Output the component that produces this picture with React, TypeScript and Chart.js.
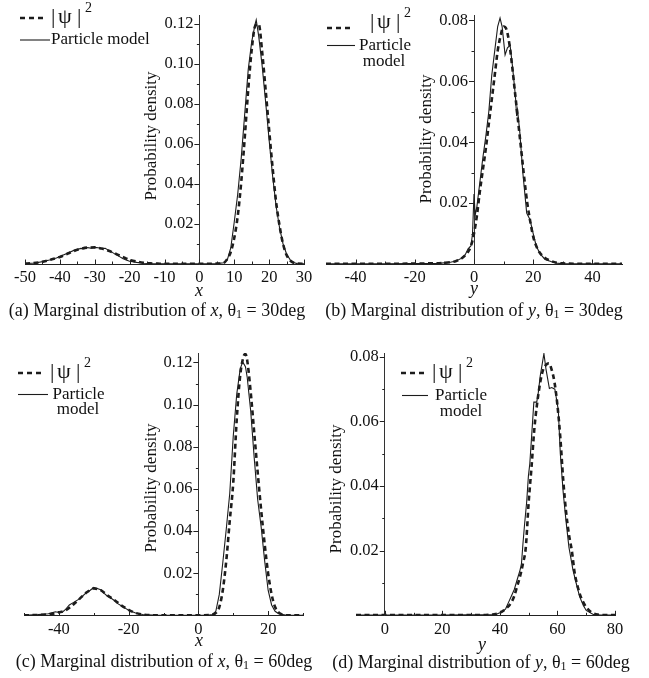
import React, { useEffect, useRef } from 'react';
import { Chart, registerables } from 'chart.js';
Chart.register(...registerables);

// ---------- (a) marginal distribution of x, theta1 = 30deg ----------
const aPsiX = [-50,-48,-46,-44,-42,-40,-38,-36,-34,-32,-30,-28,-26,-24,-22,-20,-18,-16,-14,-12,-10,-5,0,5,7,8,9,10,11,12,13,14,15,16,17,18,19,20,21,22,23,24,25,26,27,28,30];
const aPsiY = [0.0002,0.0004,0.0008,0.0015,0.0025,0.0035,0.005,0.0065,0.0076,0.0082,0.0083,0.0077,0.0066,0.0051,0.0036,0.0021,0.0012,0.0006,0.0003,0.0002,0.0001,0.0001,0.0001,0.0002,0.0006,0.0025,0.006,0.013,0.024,0.041,0.063,0.087,0.107,0.119,0.12,0.106,0.087,0.067,0.048,0.031,0.019,0.010,0.0045,0.0018,0.0006,0.0002,0.0001];
const aPartX = [-50,-47,-45,-43,-41,-39,-37,-36,-35,-34,-33,-32,-31,-30,-29,-28,-27,-26,-25,-24,-23,-22,-21,-20,-18,-16,-14,-10,0,5,7,8,9,10,11,12,13,14,15,16,16.3,17,18,19,20,21,22,23,24,25,26,27,28,30];
const aPartY = [0.0002,0.0005,0.0012,0.002,0.003,0.0045,0.006,0.0068,0.0072,0.0078,0.0076,0.0082,0.0079,0.0083,0.0081,0.0077,0.0079,0.0068,0.0058,0.0048,0.0038,0.0028,0.002,0.0014,0.0008,0.0004,0.0002,0.0001,0.0001,0.0002,0.0006,0.002,0.008,0.021,0.035,0.053,0.075,0.097,0.111,0.12,0.122,0.114,0.099,0.081,0.062,0.044,0.029,0.018,0.01,0.005,0.0022,0.0007,0.0002,0.0001];

// ---------- (b) marginal distribution of y, theta1 = 30deg ----------
const bPsiX = [-50,-30,-15,-10,-8,-6,-4,-2,-1,0,1,2,3,4,5,6,7,8,9,10,11,12,13,14,15,16,17,18,19,20,21,22,24,26,28,30,35,50];
const bPsiY = [0.0001,0.0001,0.0002,0.0004,0.0006,0.001,0.002,0.004,0.006,0.010,0.016,0.024,0.031,0.038,0.046,0.054,0.062,0.070,0.075,0.078,0.077,0.072,0.064,0.055,0.046,0.037,0.028,0.020,0.014,0.009,0.006,0.004,0.002,0.001,0.0004,0.0002,0.0001,0.0001];
const bPartX = [-50,-30,-12,-8,-6,-4,-3,-2,-1,-0.5,0,0.4,1,2,3,4,5,6,7,8,8.8,9.5,10.5,11.3,12.2,13,14,14.4,14.7,15.5,16.5,17.8,18.9,20,21,22.3,24,26,28,30,50];
const bPartY = [0.0001,0.0001,0.0002,0.0006,0.001,0.002,0.003,0.005,0.006,0.010,0.023,0.016,0.019,0.027,0.035,0.042,0.050,0.062,0.070,0.078,0.0808,0.078,0.0687,0.071,0.0718,0.065,0.055,0.0486,0.0507,0.043,0.030,0.0167,0.0146,0.010,0.006,0.0034,0.0015,0.0008,0.0003,0.0001,0.0001];

// ---------- (c) marginal distribution of x, theta1 = 60deg ----------
const cPsiX = [-50,-45,-42,-40,-38,-36,-34,-32,-30,-28,-26,-24,-22,-20,-18,-16,-14,-10,0,3,4,5,6,7,8,9,10,11,12,13,13.5,14,15,16,17,18,19,20,21,22,23,24,26,30];
const cPsiY = [0.0001,0.0003,0.0008,0.0015,0.0025,0.005,0.008,0.011,0.0128,0.012,0.0095,0.0072,0.0047,0.0027,0.0012,0.0005,0.0002,0.0001,0.0001,0.0002,0.0004,0.0012,0.004,0.012,0.026,0.045,0.063,0.093,0.114,0.123,0.124,0.121,0.106,0.087,0.068,0.05,0.034,0.02,0.01,0.004,0.0015,0.0005,0.0001,0.0001];
const cPartX = [-50,-46,-43,-41,-40,-39,-38,-37,-36,-34,-32,-31,-30,-29,-28,-27,-26,-25,-24,-23,-22,-21,-20,-18,-16,-13,0,3,4,5,6,7,8,9,10,11,12,12.7,13.5,14,15,16,17,18,19,20,21,22,23,25,30];
const cPartY = [0.0001,0.0004,0.0008,0.0018,0.0014,0.0016,0.003,0.005,0.006,0.008,0.011,0.012,0.0133,0.0128,0.0122,0.0105,0.009,0.0082,0.007,0.0055,0.0045,0.0035,0.0025,0.0012,0.0005,0.0002,0.0001,0.0002,0.0005,0.002,0.01,0.025,0.041,0.058,0.085,0.105,0.117,0.1203,0.118,0.113,0.097,0.075,0.055,0.042,0.026,0.012,0.005,0.002,0.0008,0.0002,0.0001];

// ---------- (d) marginal distribution of y, theta1 = 60deg ----------
const dPsiX = [-10,0,20,35,38,40,42,44,45,46,47,48,49,50,51,52,53,54,55,56,57,58,59,60,61,62,63,64,65,66,67,68,69,70,71,72,74,76,80];
const dPsiY = [0.0001,0.0001,0.0001,0.0001,0.0003,0.0008,0.002,0.004,0.006,0.009,0.012,0.016,0.021,0.035,0.046,0.058,0.066,0.072,0.076,0.0775,0.078,0.076,0.072,0.065,0.055,0.042,0.032,0.025,0.020,0.013,0.009,0.006,0.004,0.0025,0.0015,0.0008,0.0002,0.0001,0.0001];
const dPartX = [-10,0,20,38,39,40,41,42,43,44,45,46,47,47.5,48,48.6,49.3,49.9,50.4,51,51.8,52.8,53.3,54,55.3,56,57.2,58,59.1,60.3,61,62,63,64,65.4,66.5,67.7,69,70,72.6,75,80];
const dPartY = [0.0001,0.0001,0.0001,0.0002,0.0004,0.0008,0.0012,0.002,0.004,0.006,0.008,0.011,0.014,0.016,0.022,0.0284,0.035,0.043,0.047,0.055,0.066,0.066,0.0686,0.074,0.081,0.0763,0.0702,0.0705,0.070,0.0635,0.05,0.038,0.029,0.021,0.014,0.010,0.0058,0.003,0.0015,0.0002,0.0001,0.0001];

// ---------- tick labels and tick marks ----------
const aXLabels = [-50,-40,-30,-20,-10,0,10,20,30];
const bXLabels = [-40,-20,0,20,40];
const cXLabels = [-40,-20,0,20];
const dXLabels = [0,20,40,60,80];
const aXMajor = [-50,-40,-30,-20,-10,0,10,20,30];
const aXMinor = [-45,-35,-25,-15,-5,5,15,25];
const bXMajor = [-40,-20,0,20,40];
const bXMinor = [-30,-10,10,30];
const cXMajor = [-40,-20,0,20];
const cXMinor = [-50,-30,-10,10,30];
const dXMajor = [0,20,40,60,80];
const dXMinor = [10,30,50,70];
const yLabels12 = [0.02,0.04,0.06,0.08,0.10,0.12];
const yLabels08 = [0.02,0.04,0.06,0.08];
const yMinor12 = [0.01,0.03,0.05,0.07,0.09,0.11];
const yMinor08 = [0.01,0.03,0.05,0.07];

const SERIF = '"Liberation Serif", "Times New Roman", serif';
const INK = '#111';

type Leg = { dash: number[]; psi: number[]; solid: number[]; text: { t: string; x: number; y: number; align: string }[] };
type PanelSpec = {
  key: string; left: number; top: number; w: number; h: number;
  pad: { left: number; right: number; top: number; bottom: number };
  xMin: number; xMax: number; yMax: number; yAxisAt: number;
  psiX: number[]; psiY: number[]; partX: number[]; partY: number[];
  xLabels: number[]; xMajor: number[]; xMinor: number[]; yLabels: number[]; yMinor: number[];
  yTitle: number[]; axisVar: string; axisLabel: number[];
  caption: { letter: string; v: string; deg: string; cx: number; cy: number };
  legend: Leg;
};

const panels: PanelSpec[] = [
  {
    key: 'a', left: 0, top: 0, w: 324, h: 330,
    pad: { left: 25, right: 20, top: 2, bottom: 66 },
    xMin: -50, xMax: 30, yMax: 0.124, yAxisAt: 0,
    psiX: aPsiX, psiY: aPsiY, partX: aPartX, partY: aPartY,
    xLabels: aXLabels, xMajor: aXMajor, xMinor: aXMinor, yLabels: yLabels12, yMinor: yMinor12,
    yTitle: [152, 136], axisVar: 'x', axisLabel: [199, 291],
    caption: { letter: '(a)', v: 'x', deg: '30deg', cx: 157, cy: 311 },
    legend: { dash: [20, 43, 18], psi: [51, 17], solid: [20, 50, 40],
      text: [{ t: 'Particle model', x: 51, y: 40, align: 'left' }] },
  },
  {
    key: 'b', left: 324, top: 0, w: 325, h: 330,
    pad: { left: 2, right: 27, top: 0, bottom: 66 },
    xMin: -50, xMax: 50, yMax: 0.0815, yAxisAt: 0,
    psiX: bPsiX, psiY: bPsiY, partX: bPartX, partY: bPartY,
    xLabels: bXLabels, xMajor: bXMajor, xMinor: bXMinor, yLabels: yLabels08, yMinor: yMinor08,
    yTitle: [103, 139], axisVar: 'y', axisLabel: [150, 289],
    caption: { letter: '(b)', v: 'y', deg: '30deg', cx: 150, cy: 311 },
    legend: { dash: [3, 26, 28], psi: [46, 22], solid: [3, 31, 45.5],
      text: [{ t: 'Particle', x: 61, y: 45.5, align: 'center' }, { t: 'model', x: 60, y: 61.5, align: 'center' }] },
  },
  {
    key: 'c', left: 0, top: 330, w: 314, h: 348,
    pad: { left: 24, right: 11, top: 23, bottom: 62.5 },
    xMin: -50, xMax: 30, yMax: 0.1245, yAxisAt: 0,
    psiX: cPsiX, psiY: cPsiY, partX: cPartX, partY: cPartY,
    xLabels: cXLabels, xMajor: cXMajor, xMinor: cXMinor, yLabels: yLabels12, yMinor: yMinor12,
    yTitle: [152, 158], axisVar: 'x', axisLabel: [199, 311],
    caption: { letter: '(c)', v: 'x', deg: '60deg', cx: 164, cy: 332 },
    legend: { dash: [18, 41, 43], psi: [50, 42], solid: [18, 48, 64.5],
      text: [{ t: 'Particle', x: 78.5, y: 64.5, align: 'center' }, { t: 'model', x: 78, y: 80, align: 'center' }] },
  },
  {
    key: 'd', left: 314, top: 330, w: 335, h: 348,
    pad: { left: 42, right: 34, top: 23, bottom: 62.7 },
    xMin: -10, xMax: 80, yMax: 0.0812, yAxisAt: 0,
    psiX: dPsiX, psiY: dPsiY, partX: dPartX, partY: dPartY,
    xLabels: dXLabels, xMajor: dXMajor, xMinor: dXMinor, yLabels: yLabels08, yMinor: yMinor08,
    yTitle: [23, 159], axisVar: 'y', axisLabel: [168, 315],
    caption: { letter: '(d)', v: 'y', deg: '60deg', cx: 167, cy: 333 },
    legend: { dash: [87, 110, 43], psi: [118, 42.5], solid: [88, 114, 65.5],
      text: [{ t: 'Particle', x: 147, y: 65.5, align: 'center' }, { t: 'model', x: 147, y: 81.5, align: 'center' }] },
  },
];

function decorPlugin(p: PanelSpec) {
  return {
    id: 'decor_' + p.key,
    afterLayout(chart: any) {
      // place the y axis at the chosen x value and give both axes room to draw their labels
      const xs = chart.scales.x;
      const ys = chart.scales.y;
      const ax = xs.getPixelForValue(p.yAxisAt);
      ys.right = ax;
      ys.left = ax - 80;
      ys.width = 80;
      xs.bottom = xs.top + 40;
      xs.height = 40;
      ys._labelItems = null;
      ys._gridLineItems = null;
      xs._labelItems = null;
      xs._gridLineItems = null;
    },
    afterDraw(chart: any) {
      const ctx = chart.ctx as CanvasRenderingContext2D;
      const xs = chart.scales.x;
      const ys = chart.scales.y;
      const ax = xs.getPixelForValue(p.yAxisAt);
      const by = ys.getPixelForValue(0);
      ctx.save();
      // tick marks
      ctx.strokeStyle = '#222';
      ctx.lineWidth = 1;
      ctx.beginPath();
      for (const v of p.xMajor) {
        const px = Math.round(xs.getPixelForValue(v)) + 0.5;
        ctx.moveTo(px, by);
        ctx.lineTo(px, by - 4.5);
      }
      for (const v of p.xMinor) {
        const px = Math.round(xs.getPixelForValue(v)) + 0.5;
        ctx.moveTo(px, by);
        ctx.lineTo(px, by - 2.5);
      }
      for (const v of p.yLabels) {
        const py = Math.round(ys.getPixelForValue(v)) + 0.5;
        ctx.moveTo(ax - 5, py);
        ctx.lineTo(ax, py);
      }
      for (const v of p.yMinor) {
        const py = Math.round(ys.getPixelForValue(v)) + 0.5;
        ctx.moveTo(ax - 2.5, py);
        ctx.lineTo(ax, py);
      }
      ctx.stroke();

      ctx.fillStyle = INK;
      // y title
      ctx.save();
      ctx.translate(p.yTitle[0], p.yTitle[1]);
      ctx.rotate(-Math.PI / 2);
      ctx.font = `17px ${SERIF}`;
      ctx.textAlign = 'center';
      ctx.textBaseline = 'middle';
      ctx.fillText('Probability density', 0, 0);
      ctx.restore();

      // axis variable label
      ctx.font = `italic 18px ${SERIF}`;
      ctx.textAlign = 'center';
      ctx.textBaseline = 'middle';
      ctx.fillText(p.axisVar, p.axisLabel[0], p.axisLabel[1]);

      // caption
      const c = p.caption;
      const segs = [
        { t: `${c.letter} Marginal distribution of `, f: `18px ${SERIF}`, dy: 0 },
        { t: c.v, f: `italic 18px ${SERIF}`, dy: 0 },
        { t: ', θ', f: `18px ${SERIF}`, dy: 0 },
        { t: '1', f: `12px ${SERIF}`, dy: 4 },
        { t: ` = ${c.deg}`, f: `18px ${SERIF}`, dy: 0 },
      ];
      let total = 0;
      for (const s of segs) { ctx.font = s.f; total += ctx.measureText(s.t).width; }
      let cx = c.cx - total / 2;
      ctx.textAlign = 'left';
      for (const s of segs) {
        ctx.font = s.f;
        ctx.fillText(s.t, cx, c.cy + s.dy);
        cx += ctx.measureText(s.t).width;
      }

      // legend
      const L = p.legend;
      const ds0 = chart.data.datasets[0];
      const ds1 = chart.data.datasets[1];
      ctx.strokeStyle = ds0.borderColor;
      ctx.lineWidth = ds0.borderWidth;
      ctx.setLineDash([5, 4]);
      ctx.beginPath();
      ctx.moveTo(L.dash[0], L.dash[2]);
      ctx.lineTo(L.dash[1], L.dash[2]);
      ctx.stroke();
      ctx.setLineDash([]);
      ctx.strokeStyle = ds1.borderColor;
      ctx.lineWidth = ds1.borderWidth;
      ctx.beginPath();
      ctx.moveTo(L.solid[0], L.solid[2]);
      ctx.lineTo(L.solid[1], L.solid[2]);
      ctx.stroke();

      ctx.textBaseline = 'middle';
      ctx.textAlign = 'left';
      ctx.font = `22px ${SERIF}`;
      const [px0, py0] = L.psi;
      ctx.fillText('|', px0, py0);
      ctx.fillText('ψ', px0 + 7, py0);
      ctx.fillText('|', px0 + 26, py0);
      ctx.font = `14px ${SERIF}`;
      ctx.fillText('2', px0 + 34, py0 - 9);
      ctx.font = `17px ${SERIF}`;
      for (const t of L.text) {
        ctx.textAlign = t.align as CanvasTextAlign;
        ctx.fillText(t.t, t.x, t.y);
      }
      ctx.restore();
    },
  };
}

function makeChart(canvas: HTMLCanvasElement, p: PanelSpec) {
  const tickFont = { family: SERIF, size: 16.5 };
  return new Chart(canvas, {
    type: 'line',
    data: {
      datasets: [
        {
          label: '|ψ|²',
          data: p.psiX.map((x, i) => ({ x, y: p.psiY[i] })),
          borderColor: '#1c1c1c',
          borderWidth: 2.6,
          borderDash: [5, 3.5],
          pointRadius: 0,
          cubicInterpolationMode: 'monotone',
          fill: false,
        },
        {
          label: 'Particle model',
          data: p.partX.map((x, i) => ({ x, y: p.partY[i] })),
          borderColor: '#1c1c1c',
          borderWidth: 1.1,
          pointRadius: 0,
          tension: 0,
          fill: false,
        },
      ],
    },
    options: {
      animation: false,
      responsive: false,
      devicePixelRatio: 1,
      layout: { padding: p.pad },
      plugins: { legend: { display: false }, tooltip: { enabled: false } },
      scales: {
        x: {
          type: 'linear',
          position: 'bottom',
          min: p.xMin,
          max: p.xMax,
          grid: { display: false, drawTicks: false },
          border: { display: true, color: '#222', width: 1 },
          ticks: { font: tickFont, color: INK, padding: 4, maxRotation: 0, autoSkip: false, callback: (v: any) => String(v) },
          afterBuildTicks: (s: any) => { s.ticks = p.xLabels.map((v) => ({ value: v })); },
          afterFit: (s: any) => { s.height = 0; },
        },
        y: {
          type: 'linear',
          position: 'left',
          min: 0,
          max: p.yMax,
          grid: { display: false, drawTicks: false },
          border: { display: true, color: '#333', width: 1 },
          ticks: { font: tickFont, color: INK, padding: 6, autoSkip: false, callback: (v: any) => Number(v).toFixed(2) },
          afterBuildTicks: (s: any) => { s.ticks = p.yLabels.map((v) => ({ value: v })); },
          afterFit: (s: any) => { s.width = 0; },
        },
      },
    } as any,
    plugins: [decorPlugin(p)],
  });
}

function Panel({ p }: { p: PanelSpec }) {
  const ref = useRef<HTMLCanvasElement | null>(null);
  useEffect(() => {
    if (!ref.current) return;
    const chart = makeChart(ref.current, p);
    return () => chart.destroy();
  }, [p]);
  return (
    <canvas
      ref={ref}
      width={p.w}
      height={p.h}
      style={{ position: 'absolute', left: p.left, top: p.top, width: p.w, height: p.h }}
    />
  );
}

export default function App() {
  return (
    <div style={{ position: 'absolute', left: 0, top: 0, width: 649, height: 678, background: '#fff', overflow: 'hidden' }}>
      {panels.map((p) => (
        <Panel key={p.key} p={p} />
      ))}
    </div>
  );
}
